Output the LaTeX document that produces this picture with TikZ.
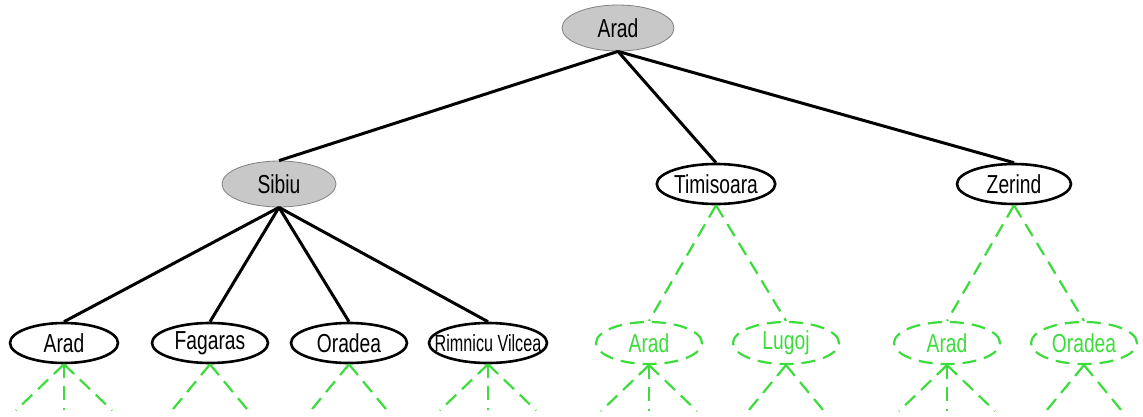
\documentclass[tikz,border=0pt]{standalone}
\usepackage{fontspec}
\setmainfont{Liberation Sans}[FakeStretch=0.74]
\usetikzlibrary{shapes.geometric}
\definecolor{expgray}{RGB}{200,200,200}
\definecolor{frontgreen}{RGB}{60,220,60}
\tikzset{
  city/.style={ellipse, inner sep=0pt, minimum width=112pt, minimum height=42pt, font=\fontsize{26}{28}\selectfont},
  expanded/.style={city, fill=expgray, draw=gray, line width=0.8pt},
  open/.style={city, draw=black, line width=2.6pt, fill=white},
  frontier/.style={city, draw=frontgreen, line width=2.2pt, dash pattern=on 14pt off 8pt, text=frontgreen},
  tree/.style={line width=3pt, black},
  futuretree/.style={line width=2.2pt, frontgreen, dash pattern=on 14pt off 8pt},
}
\begin{document}
\begin{tikzpicture}[x=1pt,y=-1pt]
\useasboundingbox (0,0) rectangle (1143,416);

% root and first level
\node[expanded, minimum width=112pt, minimum height=46pt] (root) at (618,28) {Arad};
\node[expanded, minimum width=114pt, minimum height=46pt] (sibiu) at (279,184) {Sibiu};
\node[open, minimum width=116pt, minimum height=40pt] (timisoara) at (716,184) {Timisoara};
\node[open, minimum width=114pt, minimum height=40pt] (zerind) at (1014,184) {Zerind};

% children of Sibiu
\node[open, minimum width=108pt, minimum height=40pt] (arad2) at (64,343) {Arad};
\node[open, minimum width=116pt, minimum height=40pt] (fagaras) at (210,343) {Fagaras};
\node[open, minimum width=116pt, minimum height=40pt] (oradea) at (349,343) {Oradea};
\node[open, minimum width=118pt, minimum height=40pt] (rimnicu) at (488,343)
  {\makebox[40pt]{\scalebox{0.84}[0.9]{Rimnicu Vilcea}}};

% children not yet generated
\node[frontier, minimum width=106pt, minimum height=42pt] (arad3) at (649,343) {Arad};
\node[frontier, minimum width=106pt, minimum height=42pt] (lugoj) at (786,343) {Lugoj};
\node[frontier, minimum width=106pt, minimum height=42pt] (arad4) at (947,343) {Arad};
\node[frontier, minimum width=106pt, minimum height=42pt] (oradea2) at (1084,343) {Oradea};

% solid edges
\foreach \c in {sibiu,timisoara,zerind}
  \draw[tree] (root.south) -- (\c.north);
\foreach \c in {arad2,fagaras,oradea,rimnicu}
  \draw[tree] (sibiu.south) -- (\c.north);

% dashed edges
\draw[futuretree] (timisoara.south) -- (arad3.north);
\draw[futuretree] (timisoara.south) -- (lugoj.north);
\draw[futuretree] (zerind.south) -- (arad4.north);
\draw[futuretree] (zerind.south) -- (oradea2.north);

% stubs below the leaves
\foreach \n in {arad2,rimnicu,arad3,arad4}{
  \coordinate (\n-l) at ([xshift=-48pt,yshift=-46pt]\n.south);
  \coordinate (\n-m) at ([yshift=-46pt]\n.south);
  \coordinate (\n-r) at ([xshift=48pt,yshift=-46pt]\n.south);
  \draw[futuretree] (\n.south) -- (\n-l);
  \draw[futuretree, line width=1.2pt] (\n.south) -- (\n-m);
  \draw[futuretree] (\n.south) -- (\n-r);
}
\foreach \n in {fagaras,oradea,lugoj,oradea2}{
  \coordinate (\n-l) at ([xshift=-38pt,yshift=-46pt]\n.south);
  \coordinate (\n-r) at ([xshift=38pt,yshift=-46pt]\n.south);
  \draw[futuretree] (\n.south) -- (\n-l);
  \draw[futuretree] (\n.south) -- (\n-r);
}
\end{tikzpicture}
\end{document}
